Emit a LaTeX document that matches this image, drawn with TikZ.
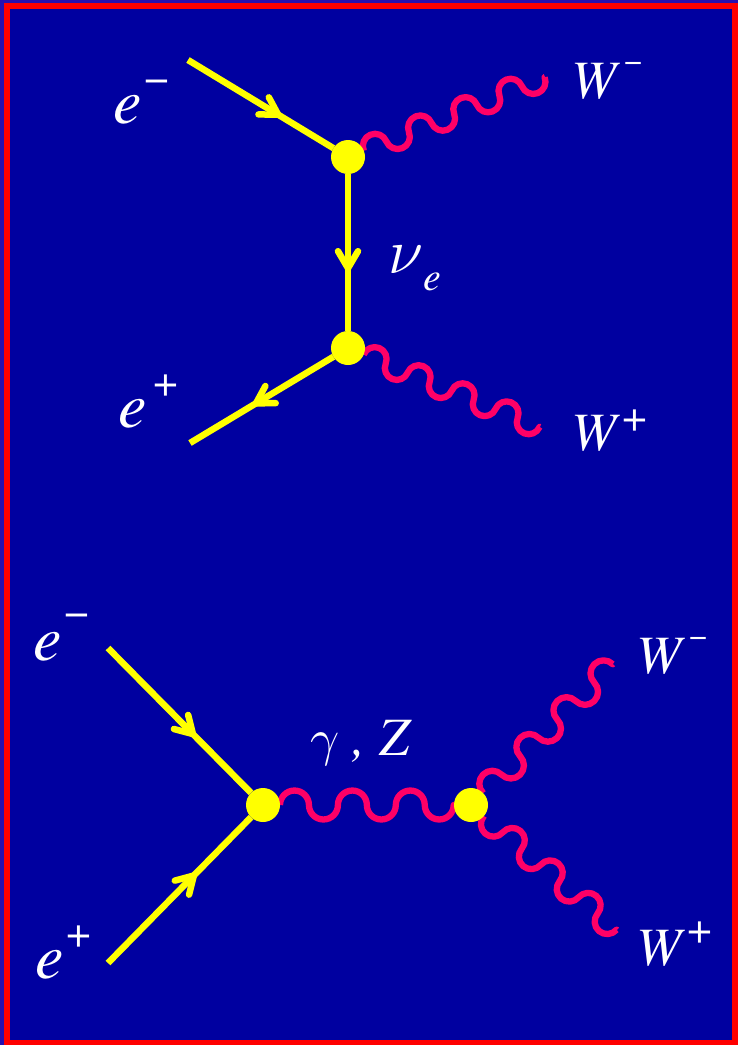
\RequirePackage{fix-cm}
\documentclass[tikz,border=0pt]{standalone}
\usepackage{fontspec}
\newfontfamily\tnr{TeX Gyre Termes}
\usetikzlibrary{decorations.pathmorphing,decorations.markings}
\definecolor{bg}{RGB}{0,0,160}
\definecolor{outerblue}{RGB}{40,16,176}
\definecolor{framered}{RGB}{255,0,0}
\definecolor{fyellow}{RGB}{255,255,0}
\definecolor{wpink}{RGB}{255,0,102}
\newcommand\Lfont{\tnr\fontsize{64}{64}\selectfont\itshape}
\newcommand\Wfont{\tnr\fontsize{54}{54}\selectfont\itshape}
\newcommand\Gfont{\fontsize{64}{64}\selectfont}
\newcommand\Hfont{\fontsize{52}{52}\selectfont}
\newcommand\Sfont{\tnr\fontsize{44}{44}\selectfont\upshape}
\newcommand\Mfont{\tnr\fontsize{32}{32}\selectfont\upshape}
\newcommand\Efont{\tnr\fontsize{40}{40}\selectfont\itshape}
% wave made of alternating semicircles; segment length = half period
\pgfdeclaredecoration{arcwave}{up}{
  \state{up}[width=\pgfdecorationsegmentlength, next state=down]{
    \pgfpathcurveto{\pgfpoint{0pt}{0.27615\pgfdecorationsegmentlength}}{\pgfpoint{0.22385\pgfdecorationsegmentlength}{0.5\pgfdecorationsegmentlength}}{\pgfpoint{0.5\pgfdecorationsegmentlength}{0.5\pgfdecorationsegmentlength}}
    \pgfpathcurveto{\pgfpoint{0.77615\pgfdecorationsegmentlength}{0.5\pgfdecorationsegmentlength}}{\pgfpoint{\pgfdecorationsegmentlength}{0.27615\pgfdecorationsegmentlength}}{\pgfpoint{\pgfdecorationsegmentlength}{0pt}}
  }
  \state{down}[width=\pgfdecorationsegmentlength, next state=up]{
    \pgfpathcurveto{\pgfpoint{0pt}{-0.27615\pgfdecorationsegmentlength}}{\pgfpoint{0.22385\pgfdecorationsegmentlength}{-0.5\pgfdecorationsegmentlength}}{\pgfpoint{0.5\pgfdecorationsegmentlength}{-0.5\pgfdecorationsegmentlength}}
    \pgfpathcurveto{\pgfpoint{0.77615\pgfdecorationsegmentlength}{-0.5\pgfdecorationsegmentlength}}{\pgfpoint{\pgfdecorationsegmentlength}{-0.27615\pgfdecorationsegmentlength}}{\pgfpoint{\pgfdecorationsegmentlength}{0pt}}
  }
  \state{final}{\pgfpathlineto{\pgfpointdecoratedpathlast}}
}
\begin{document}
\begin{tikzpicture}[x=1pt,y=-1pt,
  vertexpt/.style={circle,minimum size=34pt,inner sep=0pt,outer sep=0pt},
  fermion/.style={draw=fyellow,line width=6.5pt},
  farrow/.style={postaction={decorate},decoration={markings,mark=at position #1 with {\draw[fyellow,line width=6.5pt,line cap=round,line join=round] (-17pt,10pt) -- (0pt,0pt) -- (-17pt,-10pt);}}},
  photon/.style={draw=wpink,line width=6.3pt,line join=round,decorate,decoration={arcwave,segment length=#1}},
  photonm/.style={draw=wpink,line width=6.3pt,line join=round,decorate,decoration={arcwave,mirror,segment length=#1}},
  lbl/.style={text=white,inner sep=0pt,anchor=base west}]
\useasboundingbox (0,0) rectangle (738,1045);
\fill[outerblue] (0,0) rectangle (738,1045);
\fill[bg] (7,5.5) rectangle (735,1043);
\draw[framered,line width=6pt] (7,5.5) rectangle (735,1043);

% vertices (positions)
\node[vertexpt] (V1) at (348,157) {};
\node[vertexpt] (V2) at (348,348) {};
\node[vertexpt] (V3) at (263,805) {};
\node[vertexpt] (V4) at (471,805) {};
% free ends
\coordinate (A1) at (188,60);
\coordinate (A2) at (190,443);
\coordinate (A3) at (108,648);
\coordinate (A4) at (108,963);
\coordinate (E1) at (545,77);
\coordinate (E2) at (540,427);
\coordinate (E3) at (613,664);
\coordinate (E4) at (617,930);

% fermions
\draw[fermion,farrow=0.62] (A1) -- (V1);
\draw[fermion,farrow=0.6] (V1) -- (V2);
\draw[fermion,farrow=0.54] (V2) -- (A2);
\draw[fermion,farrow=0.594] (A3) -- (V3);
\draw[fermion,farrow=0.6] (A4) -- (V3);

% photons
\draw[photon=24.40pt] (V1) -- (E1);
\draw[photon=23.78pt] (V2) -- (E2);
\draw[photon=28.95pt] (V3) -- (V4);
\draw[photon=26.12pt] (V4) -- (E3);
\draw[photonm=24.96pt] (V4) -- (E4);

% vertex blobs
\foreach \v in {V1,V2,V3,V4} \fill[fyellow] (\v.center) circle (17pt);

% labels
\node[lbl] (le1) at (113,123) {\Lfont e\hspace{3pt}\raisebox{31pt}{\Sfont −}};
\node[lbl] (le2) at (118,427) {\Lfont e\hspace{7pt}\raisebox{31pt}{\Sfont +}};
\node[lbl] (le3) at (33,660) {\Lfont e\hspace{3pt}\raisebox{34pt}{\Sfont −}};
\node[lbl] (le4) at (35,978) {\Lfont e\hspace{3pt}\raisebox{31pt}{\Sfont +}};
\node[lbl] (lw1) at (571,98) {\Wfont W\hspace{8pt}\raisebox{27pt}{\Mfont −}};
\node[lbl] (lw2) at (571,450) {\Wfont W\hspace{6pt}\raisebox{19pt}{\Sfont +}};
\node[lbl] (lw3) at (636,673) {\Wfont W\hspace{8pt}\raisebox{27pt}{\Mfont −}};
\node[lbl] (lw4) at (636,965) {\Wfont W\hspace{6pt}\raisebox{22pt}{\Sfont +}};
\node[lbl] (lnu) at (388,273) {\Gfont$\nu$\raisebox{-17pt}{\Efont e}};
\node[lbl] (lgz) at (310,755) {\Hfont$\gamma$\Wfont{} , Z};
\end{tikzpicture}
\end{document}
